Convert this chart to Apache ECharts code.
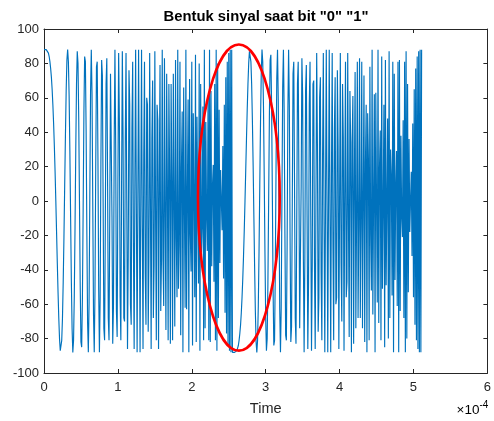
<!DOCTYPE html>
<html>
<head>
<meta charset="utf-8">
<script src="https://cdn.jsdelivr.net/npm/echarts@6/dist/echarts.min.js"></script>
<style>
html,body{margin:0;padding:0;background:#fff;}
#chart{width:494px;height:421px;}
</style>
</head>
<body>
<div id="chart"></div>
<script>
// Sample period in units of 1e-4 s (1 microsecond)
const samplePeriod = 0.01;

// Signal samples while bit "0" is sent (t = 0 ... 2.55e-4)
const bit0Samples = [
  88, 88, 88, 88, 88, 87, 86, 84, 81, 77, 72, 65, 56, 45, 32, 17,
  0, -18, -36, -53, -68, -80, -87, -88, -81, -68, -47, -21, 9, 38, 64, 82,
  88, 81, 61, 29, -9, -46, -74, -88, -81, -55, -15, 30, 68, 87, 80, 48,
  0, -49, -82, -85, -56, -4, 51, 84, 81, 41, -19, -71, -88, -59, 2, 63,
  88, 62, -2, -66, -88, -52, 19, 78, 81, 25, -51, -88, -56, 22, 82, 73,
  0, -74, -81, -12, 68, 83, 15, -68, -81, -8, 74, 75, -9, -83, -61, 34,
  88, 33, -64, -79, 9, 86, 47, -56, -81, 9, 87, 37, -68, -70, 36, 86,
  0, -86, -32, 76, 56, -60, -72, 42, 81, -26, -86, 14, 88, -5, -88, 1,
  88, -1, -88, 5, 88, -14, -86, 26, 81, -42, -72, 60, 56, -76, -32, 86,
  0, -86, 36, 70, -68, -37, 87, -9, -81, 56, 47, -86, 9, 79, -64, -33,
  88, -34, -61, 83, -9, -75, 74, 8, -81, 68, 15, -83, 68, 12, -81, 74,
  0, -73, 82, -22, -56, 88, -51, -25, 81, -78, 19, 52, -88, 66, -2, -62,
  88, -63, 2, 59, -88, 71, -19, -41, 81, -84, 51, 4, -56, 85, -82, 49,
  0, -48, 80, -87, 68, -30, -15, 55, -81, 88, -74, 46, -9, -29, 61, -81,
  88, -82, 64, -38, 9, 21, -47, 68, -81, 88, -87, 80, -68, 53, -36, 18,
  0, -17, 32, -45, 56, -65, 72, -77, 81, -84, 86, -87, 88, -88, 88, -88
];

// Signal samples while bit "1" is sent (t = 2.56e-4 ... 5.11e-4)
const bit1Samples = [
  -88, -88, -88, -88, -88, -87, -86, -84, -81, -77, -72, -65, -56, -45, -32, -17,
  0, 18, 36, 53, 68, 80, 87, 88, 81, 68, 47, 21, -9, -38, -64, -82,
  -88, -81, -61, -29, 9, 46, 74, 88, 81, 55, 15, -30, -68, -87, -80, -48,
  0, 49, 82, 85, 56, 4, -51, -84, -81, -41, 19, 71, 88, 59, -2, -63,
  -88, -62, 2, 66, 88, 52, -19, -78, -81, -25, 51, 88, 56, -22, -82, -73,
  0, 74, 81, 12, -68, -83, -15, 68, 81, 8, -74, -75, 9, 83, 61, -34,
  -88, -33, 64, 79, -9, -86, -47, 56, 81, -9, -87, -37, 68, 70, -36, -86,
  0, 86, 32, -76, -56, 60, 72, -42, -81, 26, 86, -14, -88, 5, 88, -1,
  -88, 1, 88, -5, -88, 14, 86, -26, -81, 42, 72, -60, -56, 76, 32, -86,
  0, 86, -36, -70, 68, 37, -87, 9, 81, -56, -47, 86, -9, -79, 64, 33,
  -88, 34, 61, -83, 9, 75, -74, -8, 81, -68, -15, 83, -68, -12, 81, -74,
  0, 73, -82, 22, 56, -88, 51, 25, -81, 78, -19, -52, 88, -66, 2, 62,
  -88, 63, -2, -59, 88, -71, 19, 41, -81, 84, -51, -4, 56, -85, 82, -49,
  0, 48, -80, 87, -68, 30, 15, -55, 81, -88, 74, -46, 9, 29, -61, 81,
  -88, 82, -64, 38, -9, -21, 47, -68, 81, -88, 87, -80, 68, -53, 36, -18,
  0, 17, -32, 45, -56, 65, -72, 77, -81, 84, -86, 87, -88, 88, -88, 88
];

// Axis ticks
const xTicks = { min: 0, max: 6, interval: 1 };
const yTicks = { min: -100, max: 100, interval: 20 };

// Highlight ellipse (data units: centre time, centre value, half width, half height)
const highlight = { t: 2.637, v: 2, halfT: 0.553, halfV: 89 };

const titleText = 'Bentuk sinyal saat bit "0" "1"';
const xName = 'Time';

const FONT = '"Liberation Sans", Arial, Helvetica, sans-serif';
const AX = '#262626';

const samples = bit0Samples.concat(bit1Samples);
const seriesData = samples.map((v, i) => [i * samplePeriod, v]);

const chart = echarts.init(document.getElementById('chart'), null, { renderer: 'canvas' });

const axisCommon = {
  type: 'value',
  axisLine: { show: true, onZero: false, lineStyle: { color: AX, width: 1 } },
  axisTick: { show: true, inside: true, length: 4, lineStyle: { color: AX, width: 1 } },
  splitLine: { show: false }
};

const option = {
  animation: false,
  backgroundColor: '#ffffff',
  title: {
    text: titleText,
    left: 261,
    textAlign: 'center',
    top: 4,
    textStyle: { fontFamily: FONT, fontWeight: 'bold', fontSize: 14.8, color: '#000' }
  },
  grid: { left: 44, right: 2, top: 29, bottom: 44, containLabel: false },
  xAxis: [
    Object.assign({}, axisCommon, {
      min: xTicks.min, max: xTicks.max, interval: xTicks.interval,
      position: 'bottom',
      name: xName,
      nameLocation: 'middle',
      nameGap: 28,
      nameTextStyle: { fontFamily: FONT, fontSize: 14.5, color: AX },
      axisLabel: { fontFamily: FONT, fontSize: 13, color: AX, margin: 8 }
    }),
    Object.assign({}, axisCommon, {
      min: xTicks.min, max: xTicks.max, interval: xTicks.interval,
      position: 'top',
      axisLabel: { show: false }
    })
  ],
  yAxis: [
    Object.assign({}, axisCommon, {
      min: yTicks.min, max: yTicks.max, interval: yTicks.interval,
      position: 'left',
      axisLabel: { fontFamily: FONT, fontSize: 13, color: AX, margin: 5 }
    }),
    Object.assign({}, axisCommon, {
      min: yTicks.min, max: yTicks.max, interval: yTicks.interval,
      position: 'right',
      axisLabel: { show: false }
    })
  ],
  series: [{
    type: 'line',
    xAxisIndex: 0,
    yAxisIndex: 0,
    data: seriesData,
    showSymbol: false,
    symbol: 'none',
    sampling: null,
    lineStyle: { color: '#0072BD', width: 1.15 },
    emphasis: { disabled: true }
  }]
};

chart.setOption(option);

const c = chart.convertToPixel({ gridIndex: 0 }, [highlight.t, highlight.v]);
const e = chart.convertToPixel({ gridIndex: 0 }, [highlight.t + highlight.halfT, highlight.v + highlight.halfV]);
const corner = chart.convertToPixel({ gridIndex: 0 }, [xTicks.max, yTicks.min]);

chart.setOption({
  graphic: [
    {
      type: 'ellipse',
      shape: { cx: c[0], cy: c[1], rx: Math.abs(e[0] - c[0]), ry: Math.abs(c[1] - e[1]) },
      style: { fill: 'none', stroke: '#FF0000', lineWidth: 2.6 },
      z: 100
    },
    {
      type: 'text',
      x: corner[0] + 1,
      y: corner[1] + 27,
      style: {
        text: '{a|×10}{b|-4}',
        align: 'right',
        verticalAlign: 'top',
        rich: {
          a: { fontFamily: FONT, fontSize: 13.5, color: AX, verticalAlign: 'bottom', lineHeight: 17 },
          b: { fontFamily: FONT, fontSize: 10, color: AX, verticalAlign: 'top', lineHeight: 17 }
        }
      },
      z: 100
    }
  ]
});
</script>
</body>
</html>
